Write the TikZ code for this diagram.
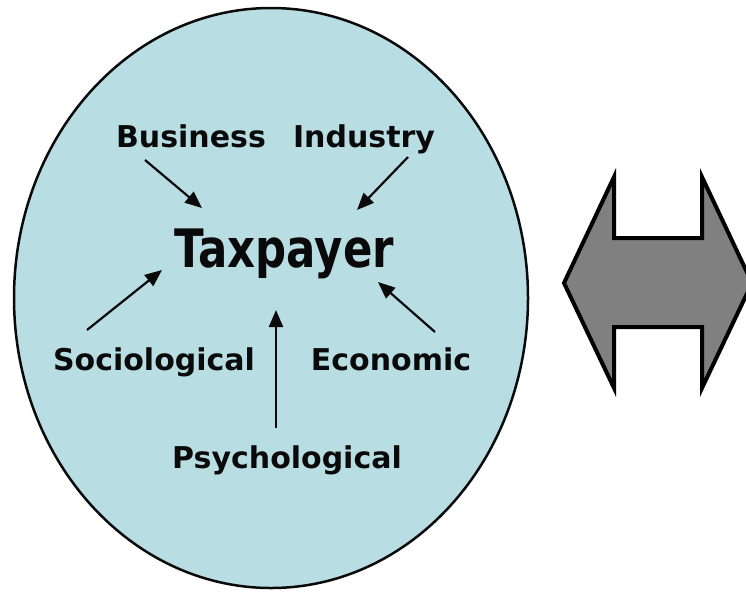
\documentclass[tikz,border=0pt]{standalone}
\usepackage{fontspec}
\setmainfont{DejaVu Sans}
\usetikzlibrary{arrows.meta}
\definecolor{ellfill}{RGB}{184,222,227}
\definecolor{arrfill}{RGB}{128,128,128}
\definecolor{txt}{RGB}{10,10,10}
\tikzset{
  lab/.style={anchor=base, inner sep=0pt, font=\bfseries\fontsize{30}{30}\selectfont, text=txt},
  big/.style={anchor=base, inner sep=0pt, font=\bfseries\fontsize{53}{53}\selectfont, text=txt},
  infl/.style={line width=2.2pt, draw=txt, -{Triangle[length=17pt,width=14pt]}},
}
\begin{document}
\begin{tikzpicture}[x=1pt,y=-1pt]
\useasboundingbox (0,0) rectangle (746,592);
\clip (0,0) rectangle (746,592);
% ellipse
\path[fill=ellfill, draw=txt, line width=2.5pt] (271,298) ellipse [x radius=257, y radius=290];
% double arrow
\path[fill=arrfill, draw=black, line width=4pt, line join=miter]
  (564,283) -- (614,177) -- (614,238) -- (702,238) -- (702,177) -- (752,283)
  -- (702,388) -- (702,327) -- (614,327) -- (614,388) -- cycle;
% labels
\node[big] (tax) at (284,267) {\scalebox{0.82}[1]{Taxpayer}};
\node[lab] (bus) at (191,147) {Business};
\node[lab] (ind) at (364,147) {Industry};
\node[lab] (soc) at (154,370) {Sociological};
\node[lab] (eco) at (391,370) {Economic};
\node[lab] (psy) at (287,468) {Psychological};
% arrow end points
\coordinate (busS) at (145,160);
\coordinate (busT) at (202,208);
\coordinate (indS) at (408,157);
\coordinate (indT) at (357,210);
\coordinate (socS) at (87,330);
\coordinate (socT) at (162,270);
\coordinate (ecoS) at (435,332);
\coordinate (ecoT) at (378,282);
\coordinate (psyS) at (276,428);
\coordinate (psyT) at (276,310);
\draw[infl] (busS) -- (busT);
\draw[infl] (indS) -- (indT);
\draw[infl] (socS) -- (socT);
\draw[infl] (ecoS) -- (ecoT);
\draw[infl] (psyS) -- (psyT);
\end{tikzpicture}
\end{document}
